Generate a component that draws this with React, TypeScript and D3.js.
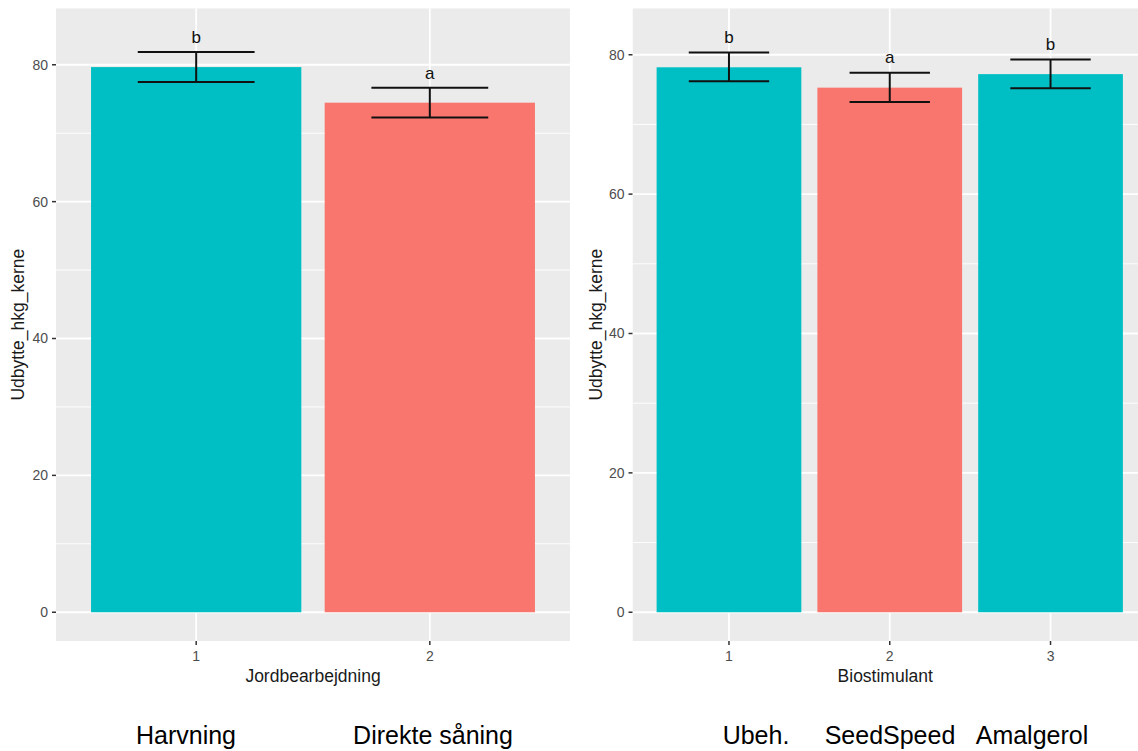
import React from "react";
import * as d3 from "d3";

// ---- Data ----
const soilCats = ["1", "2"];
const soilNames = ["Harvning", "Direkte såning"];
const soilMeans = [79.66, 74.46];
const soilLower = [77.47, 72.28];
const soilUpper = [81.85, 76.65];
const soilLetters = ["b", "a"];

const bioCats = ["1", "2", "3"];
const bioNames = ["Ubeh.", "SeedSpeed", "Amalgerol"];
const bioMeans = [78.2, 75.28, 77.22];
const bioLower = [76.2, 73.23, 75.18];
const bioUpper = [80.34, 77.42, 79.32];
const bioLetters = ["b", "a", "b"];

const yTicks = [0, 20, 40, 60, 80];
const yMinor = [10, 30, 50, 70];

const yTitle = "Udbytte_hkg_kerne";
const soilTitle = "Jordbearbejdning";
const bioTitle = "Biostimulant";

const FILL: Record<string, string> = { a: "#F8766D", b: "#00BFC4" };
const FONT = "'Liberation Sans', Arial, sans-serif";
const LABEL_OFFSET = 2.2;

type PanelProps = {
  cats: string[];
  names: string[];
  means: number[];
  lower: number[];
  upper: number[];
  letters: string[];
  title: string;
  left: number;
  right: number;
  titleX: number;
  nameXs: number[];
};

function Panel(p: PanelProps) {
  const top = 8.3;
  const bottom = 641;
  const n = p.cats.length;
  const labelYs = p.upper.map((u) => u + LABEL_OFFSET);
  const maxY = d3.max(labelYs) as number;
  const y = d3
    .scaleLinear()
    .domain([-0.05 * maxY, 1.05 * maxY])
    .range([bottom, top]);
  const x = d3
    .scaleLinear()
    .domain([0.4, n + 0.6])
    .range([p.left, p.right]);
  const unit = x(2) - x(1);
  const barW = unit * 0.9;
  const capW = unit * 0.5;
  const clipId = "clip" + p.title;
  return (
    <g>
      <defs>
        <clipPath id={clipId}>
          <rect x={p.left} y={top} width={p.right - p.left} height={bottom - top} />
        </clipPath>
      </defs>
      <g clipPath={`url(#${clipId})`}>
        <rect x={p.left} y={top} width={p.right - p.left} height={bottom - top} fill="#EBEBEB" />
        {yMinor.map((t) => (
          <line key={"mi" + t} x1={p.left} x2={p.right} y1={y(t)} y2={y(t)} stroke="#fff" strokeWidth={0.9} />
        ))}
        {yTicks.map((t) => (
          <line key={"ma" + t} x1={p.left} x2={p.right} y1={y(t)} y2={y(t)} stroke="#fff" strokeWidth={1.8} />
        ))}
        {p.cats.map((c, i) => (
          <line key={"vx" + c} x1={x(i + 1)} x2={x(i + 1)} y1={top} y2={bottom} stroke="#fff" strokeWidth={1.8} />
        ))}
        {p.means.map((m, i) => (
          <rect
            key={"bar" + i}
            x={x(i + 1) - barW / 2}
            y={y(m)}
            width={barW}
            height={y(0) - y(m)}
            fill={FILL[p.letters[i]]}
          />
        ))}
        {p.means.map((m, i) => (
          <g key={"err" + i} stroke="#111" strokeWidth={2}>
            <line x1={x(i + 1)} x2={x(i + 1)} y1={y(p.lower[i])} y2={y(p.upper[i])} />
            <line x1={x(i + 1) - capW / 2} x2={x(i + 1) + capW / 2} y1={y(p.lower[i])} y2={y(p.lower[i])} />
            <line x1={x(i + 1) - capW / 2} x2={x(i + 1) + capW / 2} y1={y(p.upper[i])} y2={y(p.upper[i])} />
          </g>
        ))}
        {p.letters.map((l, i) => (
          <text
            key={"lt" + i}
            x={x(i + 1)}
            y={y(labelYs[i])}
            dy="0.35em"
            textAnchor="middle"
            fontSize={17}
            fontFamily={FONT}
            fill="#111"
          >
            {l}
          </text>
        ))}
      </g>
      {/* y axis */}
      {yTicks.map((t) => (
        <g key={"yt" + t}>
          <line x1={p.left - 4} x2={p.left} y1={y(t)} y2={y(t)} stroke="#333" strokeWidth={1.5} />
          <text
            x={p.left - 8}
            y={y(t)}
            dy="0.35em"
            textAnchor="end"
            fontSize={14}
            fontFamily={FONT}
            fill="#4D4D4D"
          >
            {t}
          </text>
        </g>
      ))}
      {/* x axis */}
      {p.cats.map((c, i) => (
        <g key={"xt" + c}>
          <line x1={x(i + 1)} x2={x(i + 1)} y1={bottom} y2={bottom + 4} stroke="#333" strokeWidth={1.5} />
          <text
            x={x(i + 1)}
            y={bottom + 20}
            textAnchor="middle"
            fontSize={14}
            fontFamily={FONT}
            fill="#4D4D4D"
          >
            {c}
          </text>
        </g>
      ))}
      <text
        x={(p.left + Math.min(p.right, 1138)) / 2 + (p.right > 1138 ? 0 : 0)}
        y={682}
        textAnchor="middle"
        fontSize={17.5}
        fontFamily={FONT}
        fill="#1a1a1a"
      >
        {p.title}
      </text>
      <text
        transform={`translate(${p.titleX},${(top + bottom) / 2}) rotate(-90)`}
        textAnchor="middle"
        dy="0.35em"
        fontSize={17.5}
        fontFamily={FONT}
        fill="#1a1a1a"
      >
        {yTitle}
      </text>
      {p.names.map((nm, i) => (
        <text
          key={"nm" + i}
          x={p.nameXs[i]}
          y={744}
          textAnchor="middle"
          fontSize={25}
          fontFamily={FONT}
          fill="#000"
        >
          {nm}
        </text>
      ))}
    </g>
  );
}

export default function App() {
  return (
    <svg
      width={1138}
      height={751}
      style={{ position: "absolute", left: 0, top: 0, display: "block", background: "#fff" }}
    >
      <rect width={1138} height={751} fill="#fff" />
      <Panel
        cats={soilCats}
        names={soilNames}
        means={soilMeans}
        lower={soilLower}
        upper={soilUpper}
        letters={soilLetters}
        title={soilTitle}
        left={56}
        right={570}
        titleX={18}
        nameXs={[186, 433]}
      />
      <Panel
        cats={bioCats}
        names={bioNames}
        means={bioMeans}
        lower={bioLower}
        upper={bioUpper}
        letters={bioLetters}
        title={bioTitle}
        left={632.5}
        right={1147}
        titleX={596}
        nameXs={[756, 890, 1032]}
      />
    </svg>
  );
}
